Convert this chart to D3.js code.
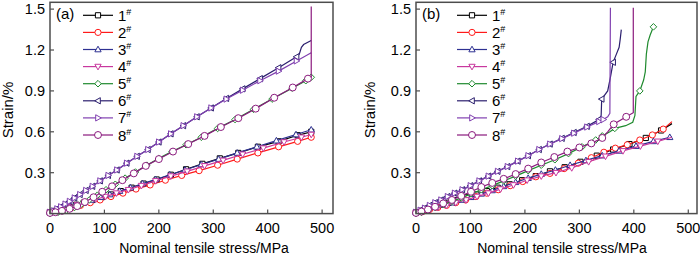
<!DOCTYPE html>
<html>
<head>
<meta charset="utf-8">
<script src="https://cdn.jsdelivr.net/npm/d3@7"></script>
<style>
  body { margin: 0; background: #fff; }
  svg { display: block; font-family: "Liberation Sans", Arial, sans-serif; }
</style>
</head>
<body>
<svg id="chart" width="700" height="256"></svg>
<script>
// ---- data: [stress MPa, strain %, marker?] (third value 0 = line vertex only)
const labels = ["1", "2", "3", "4", "5", "6", "7", "8"];
const colors = ["#000000", "#ff1a1a", "#2e3192", "#c8389e", "#1f8a2e", "#2b1f6e", "#8040b0", "#8b1a7e"];
const shapes = ["square", "circle", "up", "down", "diamond", "left", "right", "circle8"];
const xTicks = [0, 100, 200, 300, 400, 500];
const yTicks = [0.3, 0.6, 0.9, 1.2, 1.5];

const a1 = [[0,0.01],[8,0.02],[16,0.03],[25,0.04],[35,0.05],[48,0.065],[62,0.08],[78,0.1],[95,0.12],[112,0.14],[130,0.165],[150,0.19],[172,0.22],[196,0.25],[222,0.285],[250,0.325],[280,0.365],[312,0.405],[346,0.445],[382,0.49],[420,0.53],[455,0.575],[480,0.6]];
const a2 = [[0,0.005],[12,0.015],[25,0.03],[40,0.045],[56,0.06],[74,0.08],[92,0.1],[112,0.125],[134,0.15],[158,0.18],[184,0.21],[212,0.245],[242,0.28],[274,0.315],[308,0.355],[344,0.4],[382,0.445],[420,0.49],[455,0.53],[480,0.56]];
const a3 = [[0,0.01],[10,0.02],[20,0.035],[32,0.05],[45,0.06],[60,0.08],[76,0.1],[93,0.12],[110,0.14],[128,0.165],[148,0.19],[170,0.22],[194,0.25],[220,0.285],[248,0.32],[278,0.36],[310,0.4],[344,0.445],[380,0.49],[416,0.535],[452,0.58],[480,0.615]];
const a4 = [[0,0.01],[10,0.02],[22,0.035],[35,0.05],[50,0.065],[66,0.085],[84,0.105],[102,0.125],[122,0.15],[144,0.175],[168,0.205],[194,0.24],[222,0.275],[252,0.31],[284,0.35],[318,0.39],[354,0.435],[392,0.48],[430,0.525],[462,0.56],[480,0.58]];
const a5 = [[0,0],[15,0.01],[30,0.025],[45,0.045],[58,0.07],[72,0.1],[87,0.135],[103,0.175],[120,0.215],[138,0.26],[157,0.305],[178,0.355],[200,0.405],[224,0.455],[250,0.505],[278,0.56],[308,0.625],[340,0.69],[374,0.765],[408,0.84],[445,0.92],[470,0.975],[480,1.0]];
const a6 = [[0,0.01],[6,0.02],[13,0.035],[20,0.05],[28,0.07],[36,0.09],[45,0.115],[55,0.14],[66,0.17],[78,0.2],[92,0.24],[107,0.28],[123,0.32],[141,0.37],[160,0.42],[180,0.47],[200,0.525],[222,0.585],[245,0.645],[270,0.71],[296,0.775],[324,0.845],[354,0.915],[386,0.99],[420,1.07],[453,1.15],[458,1.17,0],[462,1.22,0],[466,1.24,0],[480,1.27,0]];
const a7 = [[0,0.01],[6,0.02],[13,0.035],[20,0.05],[28,0.07],[36,0.09],[45,0.115],[55,0.14],[66,0.17],[78,0.2],[92,0.24],[107,0.28],[123,0.32],[141,0.37],[160,0.42],[180,0.47],[200,0.525],[222,0.585],[245,0.645],[270,0.71],[296,0.775],[324,0.84],[354,0.905],[386,0.975],[420,1.045],[453,1.12],[480,1.18,0]];
const a8 = [[0,0.005],[10,0.01],[22,0.02],[36,0.035],[50,0.055],[64,0.085],[80,0.12],[96,0.16],[114,0.2],[133,0.245],[154,0.295],[176,0.35],[200,0.4],[226,0.455],[254,0.51],[284,0.57],[314,0.635],[346,0.7],[378,0.77],[412,0.85],[446,0.925],[474,0.99],[480,1.0,0],[480,1.52,0]];

const b1 = [[0,0.01],[10,0.02],[20,0.035],[32,0.05],[45,0.065],[60,0.08],[76,0.1],[93,0.12],[111,0.14],[130,0.165],[150,0.19],[172,0.215],[195,0.245],[220,0.275],[246,0.31],[273,0.34],[302,0.38],[332,0.425],[362,0.47],[392,0.51],[422,0.555],[450,0.61],[470,0.66,0]];
const b2 = [[0,0.005],[12,0.015],[25,0.03],[40,0.045],[56,0.06],[73,0.08],[91,0.1],[110,0.125],[130,0.15],[151,0.175],[173,0.205],[196,0.235],[220,0.27],[246,0.295],[272,0.33],[298,0.37],[322,0.41],[345,0.45],[366,0.48],[388,0.505],[411,0.54],[434,0.577],[454,0.62],[470,0.675,0]];
const b3 = [[0,0.01],[10,0.02],[22,0.035],[35,0.05],[50,0.065],[66,0.08],[83,0.1],[101,0.12],[120,0.145],[140,0.17],[161,0.2],[183,0.23],[206,0.26],[230,0.29],[256,0.32],[283,0.355],[312,0.39],[342,0.425],[373,0.46],[404,0.495],[436,0.53],[466,0.56],[470,0.565,0]];
const b4 = [[0,0.005],[12,0.015],[25,0.03],[40,0.045],[56,0.06],[73,0.08],[92,0.1],[112,0.125],[133,0.15],[155,0.18],[179,0.21],[204,0.245],[230,0.275],[257,0.3],[286,0.335],[317,0.38],[348,0.42],[380,0.46],[412,0.495],[444,0.53],[470,0.56,0]];
const b5 = [[0,0],[10,0.01],[22,0.025],[35,0.045],[50,0.065],[66,0.09],[83,0.115],[101,0.145],[120,0.175],[140,0.205],[161,0.24],[183,0.275],[206,0.315],[230,0.355],[255,0.395],[280,0.44],[305,0.49],[330,0.54],[342,0.57],[356,0.6,0],[365,0.625],[385,0.645,0],[398,0.67,0],[402,0.72,0],[404,0.86,0],[411,0.9],[418,0.98,0],[421,1.04,0],[423,1.17,0],[426,1.26,0],[430,1.31,0],[436,1.37]];
const b6 = [[0,0.01],[8,0.025],[16,0.04],[25,0.06],[35,0.08],[46,0.1],[58,0.125],[71,0.15],[85,0.175],[100,0.205],[116,0.24],[133,0.275],[150,0.31],[168,0.345],[187,0.385],[206,0.425],[226,0.47],[246,0.51],[268,0.552],[290,0.595],[314,0.64],[336,0.69],[340,0.72,0],[341,0.84],[352,0.9,0],[357,1.0,0],[362,1.11],[368,1.17,0],[373,1.22,0],[375,1.28,0],[377,1.35,0]];
const b7 = [[0,0.01],[8,0.025],[16,0.04],[25,0.06],[35,0.08],[46,0.1],[58,0.125],[71,0.15],[85,0.175],[100,0.205],[116,0.24],[133,0.275],[150,0.31],[168,0.345],[187,0.385],[206,0.425],[226,0.47],[246,0.51],[268,0.55],[290,0.59],[314,0.635],[336,0.675],[344,0.69],[352,0.71,0],[356,0.735,0],[357,1.51,0]];
const b8 = [[0,0.005],[10,0.015],[22,0.03],[35,0.05],[50,0.075],[66,0.1],[83,0.13],[101,0.16],[120,0.195],[140,0.225],[161,0.255],[183,0.29],[206,0.33],[230,0.375],[254,0.415],[278,0.455],[300,0.485],[322,0.515],[342,0.555],[352,0.6,0],[363,0.655],[386,0.71],[399,0.74,0],[399,1.51,0]];

const panels = [
  { tag: "(a)", series: [a1, a2, a3, a4, a5, a6, a7, a8], xMax: 520, left: 50, right: 333, legendX: 83, yTitleX: 13, xTitleX: 204 },
  { tag: "(b)", series: [b1, b2, b3, b4, b5, b6, b7, b8], xMax: 516, left: 416, right: 697, legendX: 457, yTitleX: 375, xTitleX: 562 }
];

const plotTop = 2.3, plotBottom = 213.6;
const svg = d3.select("#chart");

// marker outline centred on 0,0
function markerPath(shape) {
  const r = 3.3;
  if (shape === "square") return "M-2.6,-2.6H2.6V2.6H-2.6Z";
  if (shape === "circle") return d3.symbol(d3.symbolCircle, 30)();
  if (shape === "circle8") return d3.symbol(d3.symbolCircle, 38)();
  if (shape === "diamond") return `M0,${-r}L${r},0L0,${r}L${-r},0Z`;
  return `M0,${-r}L${r * 0.95},${r * 0.7}L${-r * 0.95},${r * 0.7}Z`;
}
const rotation = { up: 0, down: 180, left: -90, right: 90 };

function drawMarker(g, shape, color, x, y) {
  g.append("path")
    .attr("d", markerPath(shape))
    .attr("transform", `translate(${x},${y}) rotate(${rotation[shape] || 0})`)
    .attr("fill", "#fff")
    .attr("stroke", color)
    .attr("stroke-width", 1);
}

panels.forEach((p) => {
  const x = d3.scaleLinear().domain([0, p.xMax]).range([p.left, p.right]);
  const y = d3.scaleLinear().domain([0, 1.55]).range([plotBottom, plotTop]);
  const g = svg.append("g");

  const line = d3.line().x((d) => x(d[0])).y((d) => y(d[1]));

  p.series.forEach((data, i) => {
    g.append("path")
      .attr("d", line(data))
      .attr("fill", "none")
      .attr("stroke", colors[i])
      .attr("stroke-width", 1.2);
    data.filter((d) => d[2] !== 0).forEach((d) => drawMarker(g, shapes[i], colors[i], x(d[0]), y(d[1])));
  });

  // frame
  g.append("rect")
    .attr("x", p.left)
    .attr("y", plotTop)
    .attr("width", p.right - p.left)
    .attr("height", plotBottom - plotTop)
    .attr("fill", "none")
    .attr("stroke", "#4d4d4d")
    .attr("stroke-width", 1.5);

  // inward ticks
  xTicks.forEach((t) => {
    g.append("line")
      .attr("x1", x(t)).attr("x2", x(t))
      .attr("y1", plotBottom).attr("y2", plotBottom - 4)
      .attr("stroke", "#4d4d4d").attr("stroke-width", 1.2);
    g.append("text")
      .attr("x", x(t)).attr("y", 232.5)
      .attr("text-anchor", "middle")
      .attr("font-size", 14.5)
      .text(t);
  });
  yTicks.forEach((t) => {
    g.append("line")
      .attr("x1", p.left).attr("x2", p.left + 4)
      .attr("y1", y(t)).attr("y2", y(t))
      .attr("stroke", "#4d4d4d").attr("stroke-width", 1.2);
    g.append("text")
      .attr("x", p.left - 5).attr("y", y(t))
      .attr("dy", "0.36em")
      .attr("text-anchor", "end")
      .attr("font-size", 14.5)
      .text(t.toFixed(1));
  });

  // titles
  g.append("text")
    .attr("x", p.xTitleX).attr("y", 253)
    .attr("text-anchor", "middle")
    .attr("font-size", 14)
    .text("Nominal tensile stress/MPa");
  g.append("text")
    .attr("transform", `translate(${p.yTitleX},110) rotate(-90)`)
    .attr("text-anchor", "middle")
    .attr("font-size", 15)
    .text("Strain/%");
  g.append("text")
    .attr("x", p.left + 6).attr("y", 19)
    .attr("font-size", 15)
    .text(p.tag);

  // legend
  labels.forEach((lab, i) => {
    const ry = 15.3 + i * 17.1;
    g.append("line")
      .attr("x1", p.legendX).attr("x2", p.legendX + 30)
      .attr("y1", ry).attr("y2", ry)
      .attr("stroke", colors[i]).attr("stroke-width", 1.2);
    drawMarker(g, shapes[i], colors[i], p.legendX + 15, ry);
    const t = g.append("text")
      .attr("x", p.legendX + 35).attr("y", ry + 5.5)
      .attr("font-size", 15)
      .text(lab);
    t.append("tspan")
      .attr("dy", -6)
      .attr("font-size", 9)
      .text("#");
  });
});
</script>
</body>
</html>
